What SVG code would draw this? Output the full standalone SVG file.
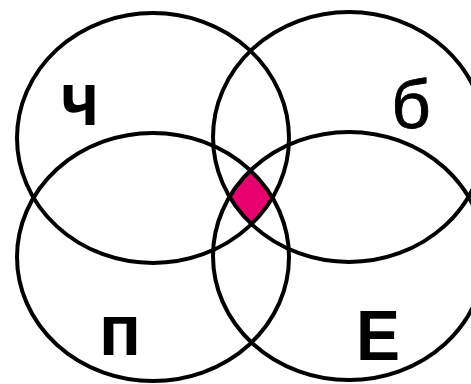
<svg xmlns="http://www.w3.org/2000/svg" width="471" height="384" viewBox="0 0 471 384">
<style>
.c{fill:none;stroke:#000;stroke-width:4}
.t{font-family:"Liberation Sans",Arial,sans-serif;fill:#000;text-anchor:middle}
.b{font-weight:bold}
</style>
<defs>
<clipPath id="k4"><ellipse cx="349" cy="256" rx="136" ry="124"/></clipPath>
<clipPath id="k3" clip-path="url(#k4)"><ellipse cx="153" cy="257" rx="136" ry="124"/></clipPath>
<clipPath id="k2" clip-path="url(#k3)"><ellipse cx="349" cy="137" rx="136" ry="125"/></clipPath>
</defs>
<rect width="471" height="384" fill="#fff"/>
<g id="center"><ellipse cx="153" cy="138" rx="136" ry="125" fill="#e8006e" clip-path="url(#k2)"/></g>
<g id="ch"><ellipse class="c" cx="153" cy="138" rx="136" ry="125"/><text class="t b" x="80" y="125" font-size="76" textLength="38" lengthAdjust="spacingAndGlyphs">ч</text></g>
<g id="b"><ellipse class="c" cx="349" cy="137" rx="136" ry="125"/><text class="t" x="411" y="128" font-size="69" stroke="#000" stroke-width="0.8">б</text></g>
<g id="p"><ellipse class="c" cx="153" cy="257" rx="136" ry="124"/><text class="t b" x="120" y="355" font-size="73" textLength="42" lengthAdjust="spacingAndGlyphs">п</text></g>
<g id="e"><ellipse class="c" cx="349" cy="256" rx="136" ry="124"/><text class="t b" x="378" y="360" font-size="70" textLength="44" lengthAdjust="spacingAndGlyphs">Е</text></g>
</svg>
